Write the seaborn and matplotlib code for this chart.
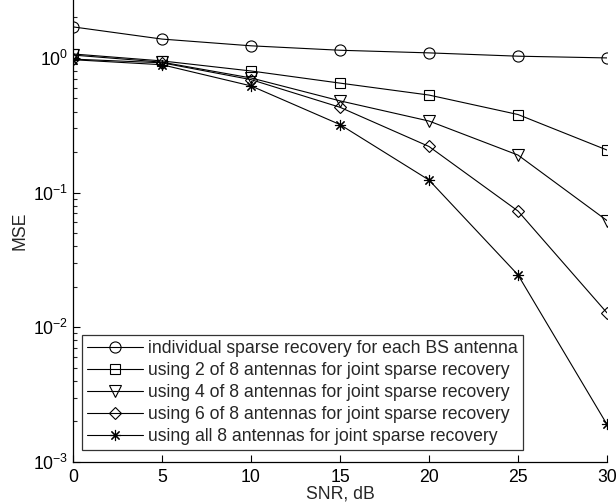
import numpy as np
import pandas as pd
import matplotlib
matplotlib.use("Agg")
import matplotlib.pyplot as plt
import seaborn as sns
from matplotlib.ticker import LogLocator, NullFormatter

snr = [0, 5, 10, 15, 20, 25, 30]
mse_individual = [1.70, 1.38, 1.23, 1.14, 1.09, 1.03, 1.00]
mse_2of8 = [1.07, 0.95, 0.80, 0.65, 0.53, 0.38, 0.207]
mse_4of8 = [1.05, 0.93, 0.71, 0.48, 0.34, 0.19, 0.062]
mse_6of8 = [0.98, 0.92, 0.69, 0.43, 0.22, 0.073, 0.0128]
mse_all8 = [0.97, 0.89, 0.62, 0.32, 0.124, 0.0245, 0.0019]

labels = [
    "individual sparse recovery for each BS antenna",
    "using 2 of 8 antennas for joint sparse recovery",
    "using 4 of 8 antennas for joint sparse recovery",
    "using 6 of 8 antennas for joint sparse recovery",
    "using all 8 antennas for joint sparse recovery",
]
series = [mse_individual, mse_2of8, mse_4of8, mse_6of8, mse_all8]
markers = ["o", "s", "v", "D", (8, 2, 0)]
msizes = [8, 6.5, 9, 6.3, 8]

sns.set_style("ticks")
plt.rcParams['font.family'] = ['Liberation Sans', 'DejaVu Sans']
plt.rcParams['mathtext.fontset'] = 'custom'
plt.rcParams['mathtext.rm'] = 'Liberation Sans'

FS = 12.7

fig = plt.figure(figsize=(6.16, 5.03), dpi=100)
ax = fig.add_axes([73 / 616, 1 - 462 / 503, 534 / 616, 462 / 503])

for lab, vals, mk, ms in zip(labels, series, markers, msizes):
    df = pd.DataFrame({"SNR": snr, "MSE": vals})
    sns.lineplot(data=df, x="SNR", y="MSE", ax=ax, color="k", lw=0.8,
                 marker=mk, markersize=ms, markerfacecolor="none",
                 markeredgecolor="k", markeredgewidth=0.8, label=lab)

ax.set_yscale("log")
ax.set_xlim(0, 30)
ax.set_ylim(1e-3, 10 ** 0.43)
ax.set_xticks(snr)
ax.yaxis.set_major_locator(LogLocator(base=10, numticks=10))
ax.yaxis.set_minor_locator(LogLocator(base=10, subs=np.arange(2, 10), numticks=20))
ax.yaxis.set_minor_formatter(NullFormatter())
ax.tick_params(axis="both", which="major", direction="in", length=5, width=0.8,
               labelsize=FS, colors="k")
ax.tick_params(axis="y", which="minor", direction="in", length=3, width=0.8)
ax.tick_params(axis="x", pad=5)
sns.despine(ax=ax)
for sp in ["left", "bottom"]:
    ax.spines[sp].set_linewidth(0.9)
    ax.spines[sp].set_color("k")

ax.set_xlabel("SNR, dB", fontsize=FS, labelpad=0)
ax.set_ylabel("MSE", fontsize=FS, labelpad=3)

leg = ax.legend(loc="lower left", bbox_to_anchor=(0.017, 0.026), borderaxespad=0,
                fontsize=FS, frameon=True, fancybox=False, edgecolor="k",
                handlelength=3.2, handletextpad=0.3, labelspacing=0.29,
                borderpad=0.26, numpoints=1)
leg.get_frame().set_linewidth(0.9)

fig.savefig("out.png", dpi=100)
